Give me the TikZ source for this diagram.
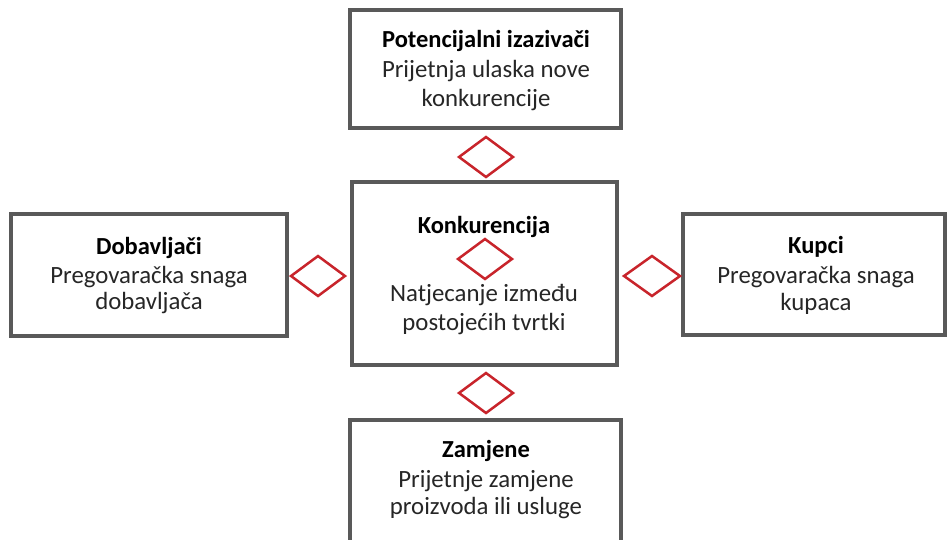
\documentclass[tikz,border=0pt]{standalone}
\usepackage{fontspec}
\setmainfont{Carlito}
\usetikzlibrary{shapes.geometric}
\definecolor{boxgray}{HTML}{595959}
\definecolor{dred}{HTML}{C8242B}
\definecolor{txt}{HTML}{262626}
\begin{document}
\begin{tikzpicture}[x=1pt,y=-1pt,
  box/.style={draw=boxgray, line width=4pt, fill=white, rectangle, inner sep=0pt},
  dia/.style={draw=dred, line width=2.5pt, diamond, inner sep=0pt, minimum width=55pt, minimum height=41pt},
  ttl/.style={anchor=base, font=\fontsize{24.5}{29}\selectfont\bfseries, text=black, inner sep=0pt},
  body/.style={anchor=base, font=\fontsize{24.8}{29}\selectfont, text=txt, inner sep=0pt}]
\useasboundingbox (0,0) rectangle (947,539);
\clip (0,0) rectangle (947,539);
\fill[white] (0,0) rectangle (947,539);
% boxes
\node[box, minimum width=271pt, minimum height=118pt] (top) at (485.5,69) {};
\node[box, minimum width=265pt, minimum height=183pt] (mid) at (484.5,273.5) {};
\node[box, minimum width=276pt, minimum height=122pt] (left) at (149,275) {};
\node[box, minimum width=262pt, minimum height=121pt] (right) at (814,274.5) {};
\node[box, minimum width=271pt, minimum height=140pt] (bot) at (485.5,490) {};
% diamonds
\node[dia] (dtop) at (486,157) {};
\node[dia] (dmid) at (485,259) {};
\node[dia] (dleft) at (318,276) {};
\node[dia, minimum width=57pt] (dright) at (652,276) {};
\node[dia] (dbot) at (486,393) {};
% texts
\node[ttl] (t1) at (486,47) {Potencijalni izazivači};
\node[body] (t2) at (486,77) {Prijetnja ulaska nove};
\node[body] (t3) at (486,106) {konkurencije};
\node[ttl] (m1) at (484,233) {Konkurencija};
\node[body] (m2) at (484,301) {Natjecanje između};
\node[body] (m3) at (484,330) {postojećih tvrtki};
\node[ttl] (l1) at (149,254) {Dobavljači};
\node[body] (l2) at (149,283) {Pregovaračka snaga};
\node[body] (l3) at (149,309) {dobavljača};
\node[ttl] (r1) at (816,253) {Kupci};
\node[body] (r2) at (816,283) {Pregovaračka snaga};
\node[body] (r3) at (816,310) {kupaca};
\node[ttl] (b1) at (486,457) {Zamjene};
\node[body] (b2) at (486,487) {Prijetnje zamjene};
\node[body] (b3) at (486,514) {proizvoda ili usluge};
\end{tikzpicture}
\end{document}
